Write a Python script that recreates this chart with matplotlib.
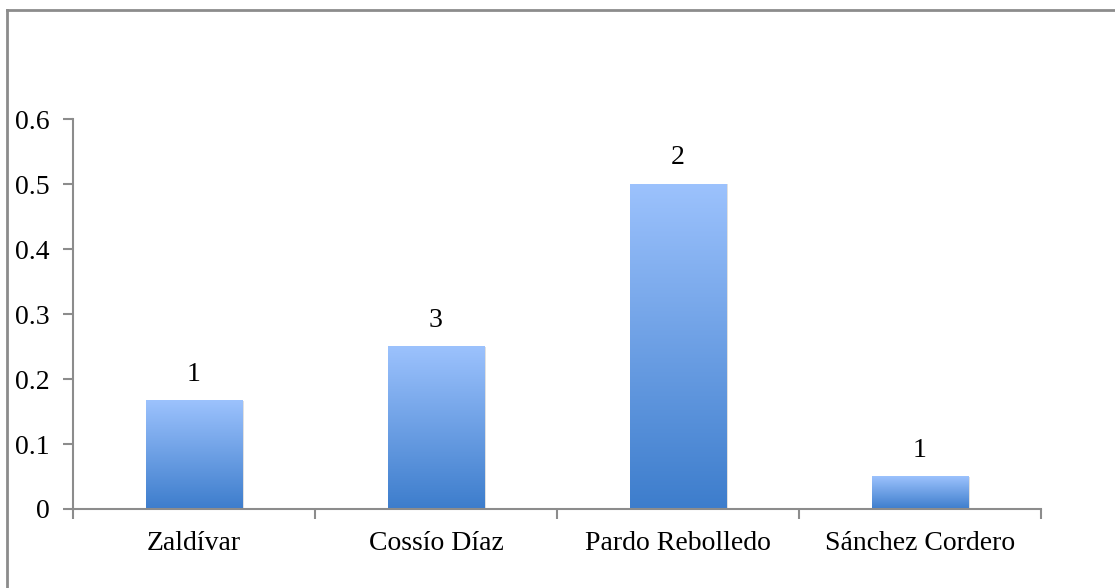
import matplotlib
matplotlib.use("Agg")
import matplotlib.pyplot as plt
import numpy as np
from matplotlib.colors import LinearSegmentedColormap
from matplotlib.lines import Line2D

categories = ["Zaldívar", "Cossío Díaz", "Pardo Rebolledo", "Sánchez Cordero"]
values = [1/6, 0.25, 0.5, 0.05]
labels = ["1", "3", "2", "1"]
yticks = [0, 0.1, 0.2, 0.3, 0.4, 0.5, 0.6]
ytick_labels = ["0", "0.1", "0.2", "0.3", "0.4", "0.5", "0.6"]

plt.rcParams['font.family'] = ['Liberation Serif', 'DejaVu Serif']
W, H = 1115, 588
fig = plt.figure(figsize=(W/100, H/100), dpi=100)
ax = fig.add_axes([73/W, 1-509/H, (1041-73)/W, (509-119)/H])

# outer border (top and left visible)
fig.add_artist(Line2D([6.5/W, 6.5/W], [0, 1-10/H], transform=fig.transFigure, color="#8c8c8c", lw=2))
fig.add_artist(Line2D([6.5/W, 1.0], [1-10/H, 1-10/H], transform=fig.transFigure, color="#8c8c8c", lw=2))

cmap = LinearSegmentedColormap.from_list("g", ["#3d7dcc", "#9cc2fd"])
x = np.arange(len(categories))
width = 0.4
bars = ax.bar(x, values, width=width, color="none", edgecolor="none", zorder=2)
grad = np.linspace(0, 1, 256).reshape(-1, 1)
for b in bars:
    x0, w, h = b.get_x(), b.get_width(), b.get_height()
    # soft shadow
    ax.add_patch(plt.Rectangle((x0 + 0.008, 0), w, h, color="#000000", alpha=0.12, zorder=1, lw=0))
    ax.imshow(grad, extent=[x0, x0 + w, 0, h], origin="lower", cmap=cmap, aspect="auto", zorder=2)

for xi, v, lab in zip(x, values, labels):
    ax.annotate(lab, (xi, v), xytext=(0, 19), textcoords="offset points", ha="center", va="center", fontsize=20)

ax.set_xlim(-0.5, len(categories) - 0.5)
ax.set_ylim(0, 0.6)
ax.set_yticks(yticks)
ax.set_yticklabels(ytick_labels, fontsize=20)
ax.set_xticks(x)
ax.set_xticklabels(categories, fontsize=20)
ax.tick_params(axis="x", length=0, pad=16)
ax.set_xticks(np.arange(-0.5, len(categories)), minor=True)
ax.tick_params(axis="x", which="minor", length=7, width=1.5, color="#8c8c8c")
ax.tick_params(axis="y", length=7, width=1.5, color="#8c8c8c", pad=10)
for s in ["top", "right"]:
    ax.spines[s].set_visible(False)
for s in ["left", "bottom"]:
    ax.spines[s].set_color("#8c8c8c")
    ax.spines[s].set_linewidth(1.5)

fig.savefig("out.png", dpi=100)
